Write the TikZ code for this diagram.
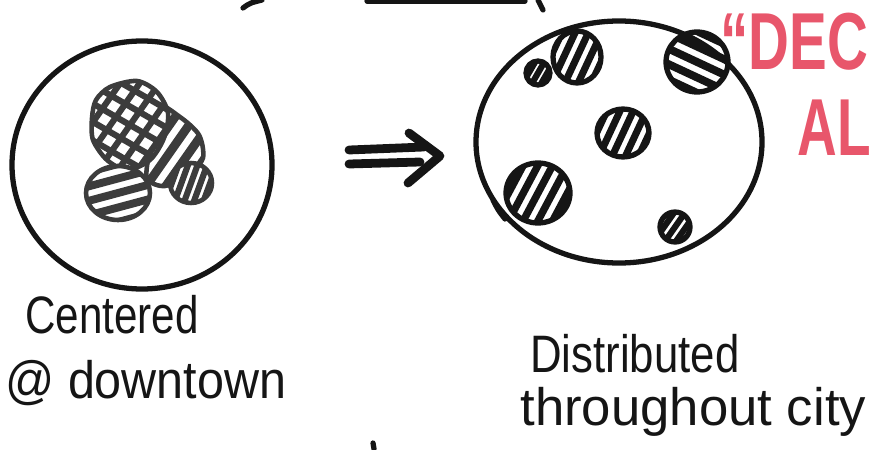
\documentclass[tikz,border=0pt]{standalone}
\usepackage{graphicx}
\usepackage{fontspec}
\setmainfont{Liberation Sans}
\definecolor{ink}{HTML}{151515}
\definecolor{greyink}{HTML}{3C3C3C}
\definecolor{marker}{HTML}{E8566B}

\begin{document}
\begin{tikzpicture}[x=0.02cm,y=-0.02cm,
  pen/.style={draw=ink,line width=3pt,line cap=round,line join=round},
  softpen/.style={draw=greyink,line width=2.6pt,line cap=round,line join=round},
  label/.style={anchor=base west,inner sep=0pt,text=ink,font=\fontsize{30}{34}\selectfont},
  redtext/.style={anchor=base west,inner sep=0pt,text=marker,font=\fontsize{46}{50}\selectfont\bfseries}]
  \useasboundingbox (0,0) rectangle (874,449);

  % bits of other sketches cut by the frame
  \draw[pen] (243,8) .. controls (250,3) .. (262,0);
  \draw[pen] (367,1) -- (525,1);
  \draw[pen] (538,0) -- (543,10);
  \draw[pen] (373,443) -- (374,449);

  % centered city (left)
  \draw[pen] (142,165) ellipse [x radius=130, y radius=124];
  % striped lobe
  \begin{scope}
    \clip plot[smooth cycle] coordinates {(157,106) (180,117) (199,135) (203,158) (190,173) (165,186) (147,178) (150,148)};
    \begin{scope}[shift={(175,145)},rotate=55]
      \foreach \k in {-4,...,4} \draw[greyink,line width=5pt] (-80,\k*16) -- (80,\k*16);
    \end{scope}
  \end{scope}
  \draw[softpen] plot[smooth cycle] coordinates {(157,106) (180,117) (199,135) (203,158) (190,173) (165,186) (147,178) (150,148)};
  % cross hatched core
  \begin{scope}
    \clip plot[smooth cycle] coordinates {(92,118) (96,100) (110,87) (137,81) (157,92) (168,113) (164,138) (150,160) (127,170) (107,160) (93,140)};
    \fill[white] (80,70) rectangle (180,180);
    \begin{scope}[shift={(130,125)},rotate=-30]
      \foreach \k in {-5,...,5} \draw[greyink,line width=3.5pt] (-80,\k*16) -- (80,\k*16);
    \end{scope}
    \begin{scope}[shift={(130,125)},rotate=55]
      \foreach \k in {-5,...,5} \draw[greyink,line width=3.5pt] (-80,\k*16) -- (80,\k*16);
    \end{scope}
  \end{scope}
  \draw[softpen] plot[smooth cycle] coordinates {(92,118) (96,100) (110,87) (137,81) (157,92) (168,113) (164,138) (150,160) (127,170) (107,160) (93,140)};
  % small lobes
  \foreach \cx/\cy/\rx/\ry/\ang/\sp/\lw in {118/193/32/27/15/14/4.5pt, 191/183/21/20/70/9/3.5pt} {
    \begin{scope}
      \clip (\cx,\cy) ellipse [x radius=\rx, y radius=\ry];
      \fill[white] (\cx,\cy) ellipse [x radius=\rx, y radius=\ry];
      \begin{scope}[shift={(\cx,\cy)},rotate=\ang]
        \foreach \k in {-4,...,4} \draw[greyink,line width=\lw] (-60,\k*\sp) -- (60,\k*\sp);
      \end{scope}
    \end{scope}
    \draw[softpen] (\cx,\cy) ellipse [x radius=\rx, y radius=\ry];
  }

  % arrow
  \draw[pen,line width=5pt] (349,150) -- (424,147);
  \draw[pen,line width=5pt] (349,164) -- (420,162);
  \draw[pen,line width=5pt] (409,133) -- (440,156) -- (408,183);

  % distributed city (right)
  \draw[pen] (619,142) ellipse [x radius=143, y radius=121];
  \draw[pen] (493,200) .. controls (498,210) .. (505,219);
  \foreach \cx/\cy/\rx/\ry/\ang/\sp/\lw in {577/57/24/26/65/12/4pt, 538/73/12/12/60/8/3.5pt,
      697/62/31/30/-25/14/4.5pt, 623/133/26/24/65/12/4pt, 538/193/32/30/62/13/4.2pt, 675/227/15/15/55/9/3.5pt} {
    \begin{scope}
      \clip (\cx,\cy) ellipse [x radius=\rx, y radius=\ry];
      \begin{scope}[shift={(\cx,\cy)},rotate=\ang]
        \foreach \k in {-4,...,4} \draw[ink,line width=\lw] (-60,\k*\sp) -- (60,\k*\sp);
      \end{scope}
    \end{scope}
    \draw[pen] (\cx,\cy) ellipse [x radius=\rx, y radius=\ry];
  }

  % labels
  \node[label] (centered) at (25,333) {\scalebox{0.8}[1]{Centered}};
  \node[label] (downtown) at (5,398) {\scalebox{0.92}[1]{@ downtown}};
  \node[label] (distributed) at (530,372) {\scalebox{0.83}[1]{Distributed}};
  \node[label] (throughout) at (520,425) {throughout city};
  \node[redtext] (dec) at (720,70) {\scalebox{0.7}[1]{“DEC}};
  \node[redtext] (al) at (797,155) {\scalebox{0.68}[1]{AL}};
\end{tikzpicture}
\end{document}
